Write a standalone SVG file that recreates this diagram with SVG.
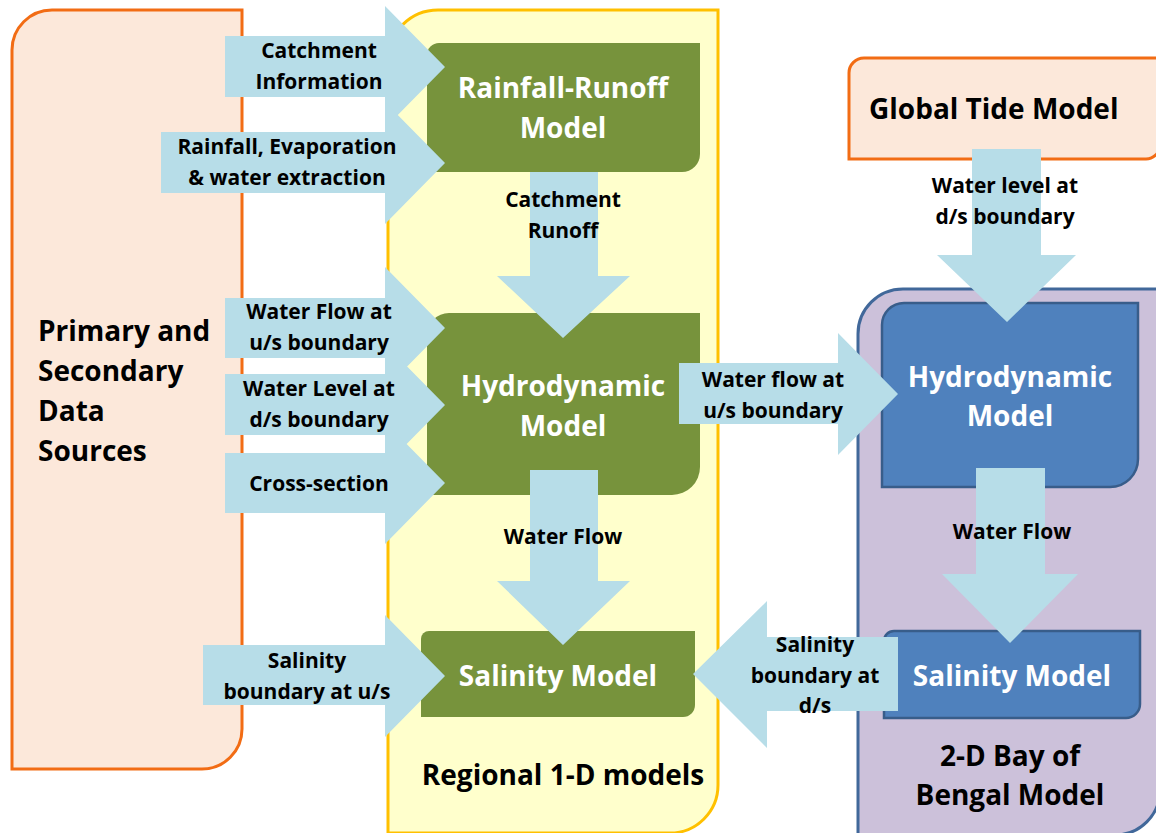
<svg xmlns="http://www.w3.org/2000/svg" width="1156" height="833" viewBox="0 0 1156 833">
<style>
  text { font-family: "Open Sans", Lato, sans-serif; font-weight: bold; }
  .lbl { font-size: 21px; fill: #000; text-anchor: middle; }
  .ttl { font-size: 28px; fill: #fff; text-anchor: middle; }
  .blk { font-size: 28px; fill: #000; }
  .arrow { fill: #B7DDE8; }
  .green { fill: #77933C; }
  .blue { fill: #4F81BD; stroke: #385D8A; stroke-width: 2.5; }
</style>
<rect x="0" y="0" width="1156" height="833" fill="#fff"/>

<g id="primary-sources">
  <path d="M52,10 H242 V729 A40,40 0 0 1 202,769 H12 V50 A40,40 0 0 1 52,10 Z" fill="#FCE8DA" stroke="#F26C14" stroke-width="3"/>
  <text class="blk" x="38" y="341">Primary and</text>
  <text class="blk" x="38" y="381">Secondary</text>
  <text class="blk" x="38" y="421">Data</text>
  <text class="blk" x="38" y="461">Sources</text>
</g>

<g id="regional-1d">
  <path d="M438,10 H718 V785 A48,48 0 0 1 670,833 H388 V60 A50,50 0 0 1 438,10 Z" fill="#FFFFCC" stroke="#FFC000" stroke-width="3"/>
  <text class="blk" x="563" y="785" text-anchor="middle" font-size="27.5">Regional 1-D models</text>
</g>

<g id="bay-of-bengal">
  <path d="M903,289 H1160 V790 A45,45 0 0 1 1115,835 H858 V334 A45,45 0 0 1 903,289 Z" fill="#CCC1DA" stroke="#41689A" stroke-width="3"/>
  <text class="blk" x="1010" y="766" text-anchor="middle">2-D Bay of</text>
  <text class="blk" x="1010" y="805" text-anchor="middle">Bengal Model</text>
</g>

<g id="global-tide">
  <path d="M864,58 H1160 V145 A14,14 0 0 1 1146,159 H849 V73 A15,15 0 0 1 864,58 Z" fill="#FCE8DA" stroke="#F26C14" stroke-width="3"/>
  <text class="blk" x="869" y="119" font-size="28.5">Global Tide Model</text>
</g>

<g id="rainfall-runoff">
  <path class="green" d="M439,43 H700 V154 A18,18 0 0 1 682,172 H427 V55 A12,12 0 0 1 439,43 Z"/>
</g>

<g id="hydro-1d">
  <path class="green" d="M449,313 H700 V467 A28,28 0 0 1 672,495 H427 V335 A22,22 0 0 1 449,313 Z"/>
</g>

<g id="salinity-1d">
  <path class="green" d="M429,631 H695 V705 A12,12 0 0 1 683,717 H421 V639 A8,8 0 0 1 429,631 Z"/>
</g>

<g id="hydro-2d">
  <path class="blue" d="M904,303 H1138 V459 A28,28 0 0 1 1110,487 H882 V325 A22,22 0 0 1 904,303 Z"/>
</g>

<g id="salinity-2d">
  <path class="blue" d="M894,631 H1140 V704 A14,14 0 0 1 1126,718 H884 V641 A10,10 0 0 1 894,631 Z"/>
</g>

<g id="connectors">
  <polygon class="arrow" points="225,36 385,36 385,6 445,67 385,128 385,97 225,97"/>
  <polygon class="arrow" points="161,132 385,132 385,102 445,163 385,224 385,193 161,193"/>
  <polygon class="arrow" points="530,172 598,172 598,276 630,276 563,338 497,276 530,276"/>
  <polygon class="arrow" points="225,298 385,298 385,267 445,328 385,389 385,358 225,358"/>
  <polygon class="arrow" points="225,374 385,374 385,344 445,405 385,466 385,435 225,435"/>
  <polygon class="arrow" points="225,453 385,453 385,422 445,483 385,544 385,513 225,513"/>
  <polygon class="arrow" points="530,470 598,470 598,581 630,581 563,645 497,581 530,581"/>
  <polygon class="arrow" points="203,645 385,645 385,615 445,676 385,737 385,705 203,705"/>
  <polygon class="arrow" points="679,363 838,363 838,333 898,394 838,455 838,424 679,424"/>
  <polygon class="arrow" points="972,149 1041,149 1041,255 1076,255 1007,322 937,255 972,255"/>
  <polygon class="arrow" points="976,468 1045,468 1045,574 1078,574 1010,643 942,574 976,574"/>
  <polygon class="arrow" points="898,637 767,637 767,601 693,674 767,748 767,711 898,711"/>
</g>

<g id="labels">
  <text class="ttl" x="563" y="98">Rainfall-Runoff</text>
  <text class="ttl" x="563" y="138">Model</text>
  <text class="ttl" x="563" y="396">Hydrodynamic</text>
  <text class="ttl" x="563" y="436">Model</text>
  <text class="ttl" x="558" y="686">Salinity Model</text>
  <text class="ttl" x="1010" y="387">Hydrodynamic</text>
  <text class="ttl" x="1010" y="426">Model</text>
  <text class="ttl" x="1012" y="686">Salinity Model</text>

  <text class="lbl" x="319" y="58">Catchment</text>
  <text class="lbl" x="319" y="89">Information</text>
  <text class="lbl" x="287" y="154">Rainfall, Evaporation</text>
  <text class="lbl" x="287" y="185">&amp; water extraction</text>
  <text class="lbl" x="563" y="207">Catchment</text>
  <text class="lbl" x="563" y="238">Runoff</text>
  <text class="lbl" x="319" y="319">Water Flow at</text>
  <text class="lbl" x="319" y="350">u/s boundary</text>
  <text class="lbl" x="319" y="396">Water Level at</text>
  <text class="lbl" x="319" y="427">d/s boundary</text>
  <text class="lbl" x="319" y="491">Cross-section</text>
  <text class="lbl" x="563" y="544">Water Flow</text>
  <text class="lbl" x="307" y="668">Salinity</text>
  <text class="lbl" x="307" y="699">boundary at u/s</text>
  <text class="lbl" x="773" y="387">Water flow at</text>
  <text class="lbl" x="773" y="418">u/s boundary</text>
  <text class="lbl" x="1005" y="193">Water level at</text>
  <text class="lbl" x="1005" y="224">d/s boundary</text>
  <text class="lbl" x="1012" y="539">Water Flow</text>
  <text class="lbl" x="815" y="652">Salinity</text>
  <text class="lbl" x="815" y="683">boundary at</text>
  <text class="lbl" x="815" y="713">d/s</text>
</g>
</svg>
